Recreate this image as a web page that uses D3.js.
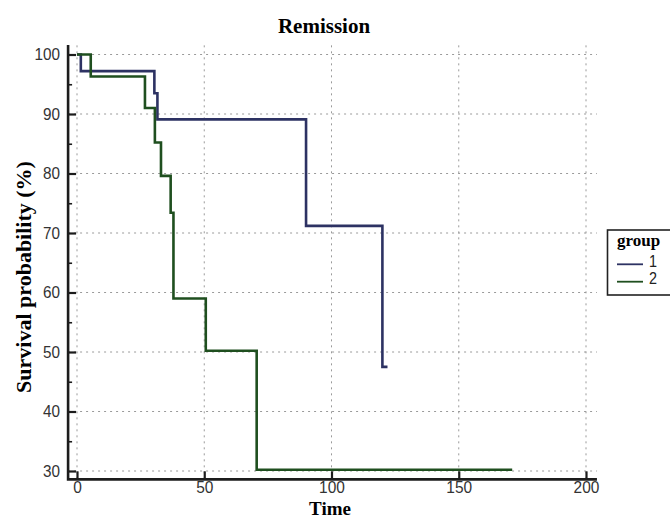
<html>
    <head>
        <title>Remission</title>
        <script src="https://d3js.org/d3.v7.min.js"></script>
    </head>

    <style>
        body { margin: 0; background: #fff; }
        .tick-label { font-family: "Liberation Sans", Arial, sans-serif; fill: #333; }
        .serif-bold { font-family: "Liberation Serif", "Times New Roman", serif; font-weight: bold; fill: #000; }
    </style>

    <body>
        <div id="KaplanMeier"></div>

        <script type="text/javascript">
            // survival curves
            var times1 = [0, 1.5, 30.4, 31.6, 90, 120, 122];
            var surv1  = [100, 97.2, 93.5, 89.1, 71.2, 47.5, 47.5];

            var times2 = [0, 5.4, 26.7, 30.6, 33.0, 36.8, 37.9, 50.6, 70.6, 171];
            var surv2  = [100, 96.3, 91.0, 85.2, 79.6, 73.4, 59.0, 50.2, 30.2, 30.2];

            var groups = ["1", "2"];
            var groupColors = ["#2d3263", "#1f4f1f"];
            var xTicks = [0, 50, 100, 150, 200];
            var yTicks = [30, 40, 50, 60, 70, 80, 90, 100];
            var yMinorTicks = [35, 45, 55, 65, 75, 85, 95];

            var width = 670, height = 519;

            var svg = d3.select("#KaplanMeier")
                        .append("svg")
                        .attr("width", width)
                        .attr("height", height);

            var x = d3.scaleLinear()
                    .domain([0, 200])
                    .range([77, 586]);

            var y = d3.scaleLinear()
                    .domain([30, 100])
                    .range([471, 54.5]);

            var xMin = -3.5, xMax = 204.3, yMin = 28.6, yMax = 101.6;

            // squeeze the labels, the original font is a narrow one
            var narrow = function (sel, perChar) {
                sel.attr("textLength", function(d) { return String(d).length * perChar; })
                   .attr("lengthAdjust", "spacingAndGlyphs");
            }

            // dotted grid
            var grid = svg.append("g")
                        .attr("stroke", "#9a9a9a")
                        .attr("stroke-width", 1)
                        .attr("stroke-dasharray", "2,4");

            grid.selectAll("line.v")
                .data(xTicks)
                .enter()
                .append("line")
                .attr("x1", function(d) { return x(d); })
                .attr("x2", function(d) { return x(d); })
                .attr("y1", y(yMin))
                .attr("y2", y(yMax));

            grid.selectAll("line.h")
                .data(yTicks)
                .enter()
                .append("line")
                .attr("x1", x(xMin))
                .attr("x2", x(xMax))
                .attr("y1", function(d) { return y(d); })
                .attr("y2", function(d) { return y(d); });

            // curves
            var line = d3.line()
                        .x(function(d) { return x(d[0]); })
                        .y(function(d) { return y(d[1]); })
                        .curve(d3.curveStepAfter);

            var series = [d3.zip(times1, surv1), d3.zip(times2, surv2)];

            svg.selectAll("path.km")
                .data(series)
                .enter()
                .append("path")
                .attr("d", line)
                .attr("fill", "none")
                .attr("stroke", function(d, i) { return groupColors[i]; })
                .attr("stroke-width", 2.6)
                .attr("stroke-linejoin", "miter");

            // axes
            var axisColor = "#1c1c1c";
            var xAxis = svg.append("g")
                        .attr("transform", "translate(0," + y(yMin) + ")")
                        .call(d3.axisBottom(x).tickValues(xTicks).tickSizeInner(-8).tickSizeOuter(0).tickPadding(2));
            xAxis.select(".domain").remove();
            xAxis.selectAll("line").attr("stroke", axisColor).attr("stroke-width", 2.2);
            xAxis.selectAll("text").attr("class", "tick-label").style("font-size", "16px").call(narrow, 8.6);

            var yAxis = svg.append("g")
                        .attr("transform", "translate(" + x(xMin) + ",0)")
                        .call(d3.axisLeft(y).tickValues(yTicks).tickSizeInner(-8).tickSizeOuter(0).tickPadding(8));
            yAxis.select(".domain").remove();
            yAxis.selectAll("line").attr("stroke", axisColor).attr("stroke-width", 2.2);
            yAxis.selectAll("text").attr("class", "tick-label").style("font-size", "17px").attr("text-anchor", "end").call(narrow, 8.5);

            var yMinor = svg.append("g")
                        .attr("transform", "translate(" + x(xMin) + ",0)")
                        .call(d3.axisLeft(y).tickValues(yMinorTicks).tickSizeInner(-4).tickSizeOuter(0).tickFormat(""));
            yMinor.select(".domain").remove();
            yMinor.selectAll("line").attr("stroke", axisColor).attr("stroke-width", 1.6);

            svg.append("path")
                .attr("d", "M" + x(xMin) + "," + y(yMax) + "V" + y(yMin) + "H" + x(xMax))
                .attr("fill", "none")
                .attr("stroke", axisColor)
                .attr("stroke-width", 2.6);

            // titles
            svg.append("text")
                .attr("class", "serif-bold")
                .style("font-size", "21px")
                .attr("text-anchor", "middle")
                .attr("x", 324)
                .attr("y", 33)
                .text("Remission");

            svg.append("text")
                .attr("class", "serif-bold")
                .style("font-size", "19px")
                .attr("text-anchor", "middle")
                .attr("x", 330)
                .attr("y", 514.5)
                .text("Time");

            svg.append("text")
                .attr("class", "serif-bold")
                .style("font-size", "22px")
                .attr("text-anchor", "middle")
                .attr("transform", "translate(31,277) rotate(-90)")
                .text("Survival probability (%)");

            // legend
            var legend = svg.append("g");
            legend.append("rect")
                .attr("x", 607.5)
                .attr("y", 230)
                .attr("width", 80)
                .attr("height", 65)
                .attr("fill", "#fff")
                .attr("stroke", "#222")
                .attr("stroke-width", 1.6);

            legend.append("text")
                .attr("class", "serif-bold")
                .style("font-size", "17px")
                .attr("x", 617)
                .attr("y", 246)
                .text("group");

            var items = legend.selectAll("g.item")
                        .data(groups)
                        .enter()
                        .append("g")
                        .attr("transform", function(d, i) { return "translate(0," + (264.3 + i * 17.4) + ")"; });

            items.append("line")
                .attr("x1", 617)
                .attr("x2", 643)
                .attr("stroke", function(d, i) { return groupColors[i]; })
                .attr("stroke-width", 1.8);

            items.append("text")
                .attr("class", "tick-label")
                .style("font-size", "16px")
                .style("fill", "#222")
                .attr("x", 649)
                .attr("y", 2.5)
                .text(function(d) { return d; })
                .call(narrow, 8);
        </script>
    </body>
</html>
